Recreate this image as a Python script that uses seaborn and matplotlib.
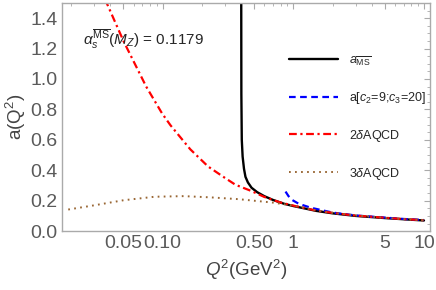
import matplotlib
matplotlib.use("Agg")
from matplotlib import pyplot as plt
from matplotlib.ticker import FixedLocator, FixedFormatter, MultipleLocator, LogLocator, NullFormatter
import seaborn as sns
import pandas as pd

# values
q2_ms = [0.400, 0.401, 0.404, 0.41, 0.42, 0.431, 0.45, 0.48, 0.53, 0.60, 0.70, 0.85, 1.0, 1.5, 2.0, 3.0, 5.0, 7.0, 10.0]
a_ms = [1.60, 0.90, 0.60, 0.49, 0.41, 0.357, 0.32, 0.285, 0.256, 0.23, 0.205, 0.18, 0.165, 0.133, 0.117, 0.100, 0.086, 0.078, 0.070]

q2_c = [0.873, 0.92, 0.98, 1.1, 1.36, 2.0, 3.0, 5.0, 7.0, 10.0]
a_c = [0.26, 0.23, 0.205, 0.18, 0.154, 0.122, 0.103, 0.089, 0.080, 0.073]

q2_2d = [0.0354, 0.0503, 0.075, 0.099, 0.115, 0.163, 0.223, 0.30, 0.361, 0.471, 0.60, 0.80, 1.0, 1.5, 2.0, 3.0, 5.0, 7.0, 10.0]
a_2d = [1.546, 1.249, 0.95, 0.775, 0.696, 0.538, 0.425, 0.35, 0.305, 0.266, 0.225, 0.188, 0.168, 0.135, 0.120, 0.102, 0.088, 0.079, 0.072]

q2_3d = [0.019, 0.0297, 0.0503, 0.087, 0.145, 0.232, 0.383, 0.69, 1.0, 1.5, 2.0, 3.0, 5.0, 7.0, 10.0]
a_3d = [0.142, 0.169, 0.203, 0.226, 0.230, 0.222, 0.210, 0.188, 0.168, 0.137, 0.121, 0.103, 0.088, 0.079, 0.072]

labels = [r"$a_{\overline{\rm MS}}$", r"a[$c_2$=9;$c_3$=20]", r"2$\delta$AQCD", r"3$\delta$AQCD"]
colors = ["black", "#0000ff", "#ff0000", "#996633"]

xticks = [0.05, 0.1, 0.5, 1, 5, 10]
xticklabels = ["0.05", "0.10", "0.50", "1", "5", "10"]

sns.set_style("white")
plt.rcParams['font.family'] = ['Liberation Sans', 'DejaVu Sans']
plt.rcParams['mathtext.fontset'] = 'custom'
plt.rcParams['mathtext.rm'] = 'Liberation Sans'
plt.rcParams['mathtext.it'] = 'Liberation Sans:italic'
plt.rcParams['mathtext.bf'] = 'Liberation Sans:bold'

fig = plt.figure(figsize=(4.36, 2.90), dpi=100)
ax = fig.add_axes([0.142, 0.203, 0.844, 0.787])

df_ms = pd.DataFrame({"q2": q2_ms, "a": a_ms})
df_c = pd.DataFrame({"q2": q2_c, "a": a_c})
df_2d = pd.DataFrame({"q2": q2_2d, "a": a_2d})
df_3d = pd.DataFrame({"q2": q2_3d, "a": a_3d})

sns.lineplot(data=df_ms, x="q2", y="a", sort=False, color=colors[0], lw=1.7, label=labels[0], ax=ax)
sns.lineplot(data=df_c, x="q2", y="a", sort=False, color=colors[1], lw=1.6, ax=ax,
             label=labels[1]).lines[-1].set_dashes([3, 2])
sns.lineplot(data=df_2d, x="q2", y="a", sort=False, color=colors[2], lw=1.6, ax=ax,
             label=labels[2]).lines[-1].set_dashes([3.5, 1.6, 1, 1.6])
sns.lineplot(data=df_3d, x="q2", y="a", sort=False, color=colors[3], lw=1.4, ax=ax,
             label=labels[3]).lines[-1].set_dashes([0.9, 2.2])

ax.set_xscale("log")
ax.set_xlim(0.017, 11.1)
ax.set_ylim(0, 1.5)

ax.xaxis.set_major_locator(FixedLocator(xticks))
ax.xaxis.set_major_formatter(FixedFormatter(xticklabels))
ax.xaxis.set_minor_locator(LogLocator(base=10, subs=range(2, 10), numticks=20))
ax.xaxis.set_minor_formatter(NullFormatter())
ax.yaxis.set_major_locator(MultipleLocator(0.2))
ax.yaxis.set_minor_locator(MultipleLocator(0.05))
ax.yaxis.set_major_formatter(plt.FuncFormatter(lambda v, p: "%.1f" % v))

ax.tick_params(which="both", direction="in", top=True, right=True, color="#aaaaaa",
               labelsize=14, labelcolor="#5a5a5a", pad=3)
ax.tick_params(which="major", length=4, width=0.8)
ax.tick_params(which="minor", length=2, width=0.6)
for s in ax.spines.values():
    s.set_color("#aaaaaa")
    s.set_linewidth(1.0)

ax.set_xlabel(r"$Q^2$(GeV$^2$)", fontsize=13.5, color="#444444", labelpad=4)
ax.set_ylabel(r"a(Q$^2$)", fontsize=13.5, color="#444444", labelpad=2)

ax.text(0.057, 0.838, r"$\alpha_s^{\overline{\rm MS}}(M_Z)$ = 0.1179", transform=ax.transAxes,
        fontsize=11, va="center", ha="left")

leg = ax.legend(loc="upper left", bbox_to_anchor=(0.617, 0.775), frameon=False, fontsize=9,
                handlelength=3.9, handletextpad=0.9, labelspacing=1.75, borderpad=0, borderaxespad=0)

fig.savefig("out.png", dpi=100)
